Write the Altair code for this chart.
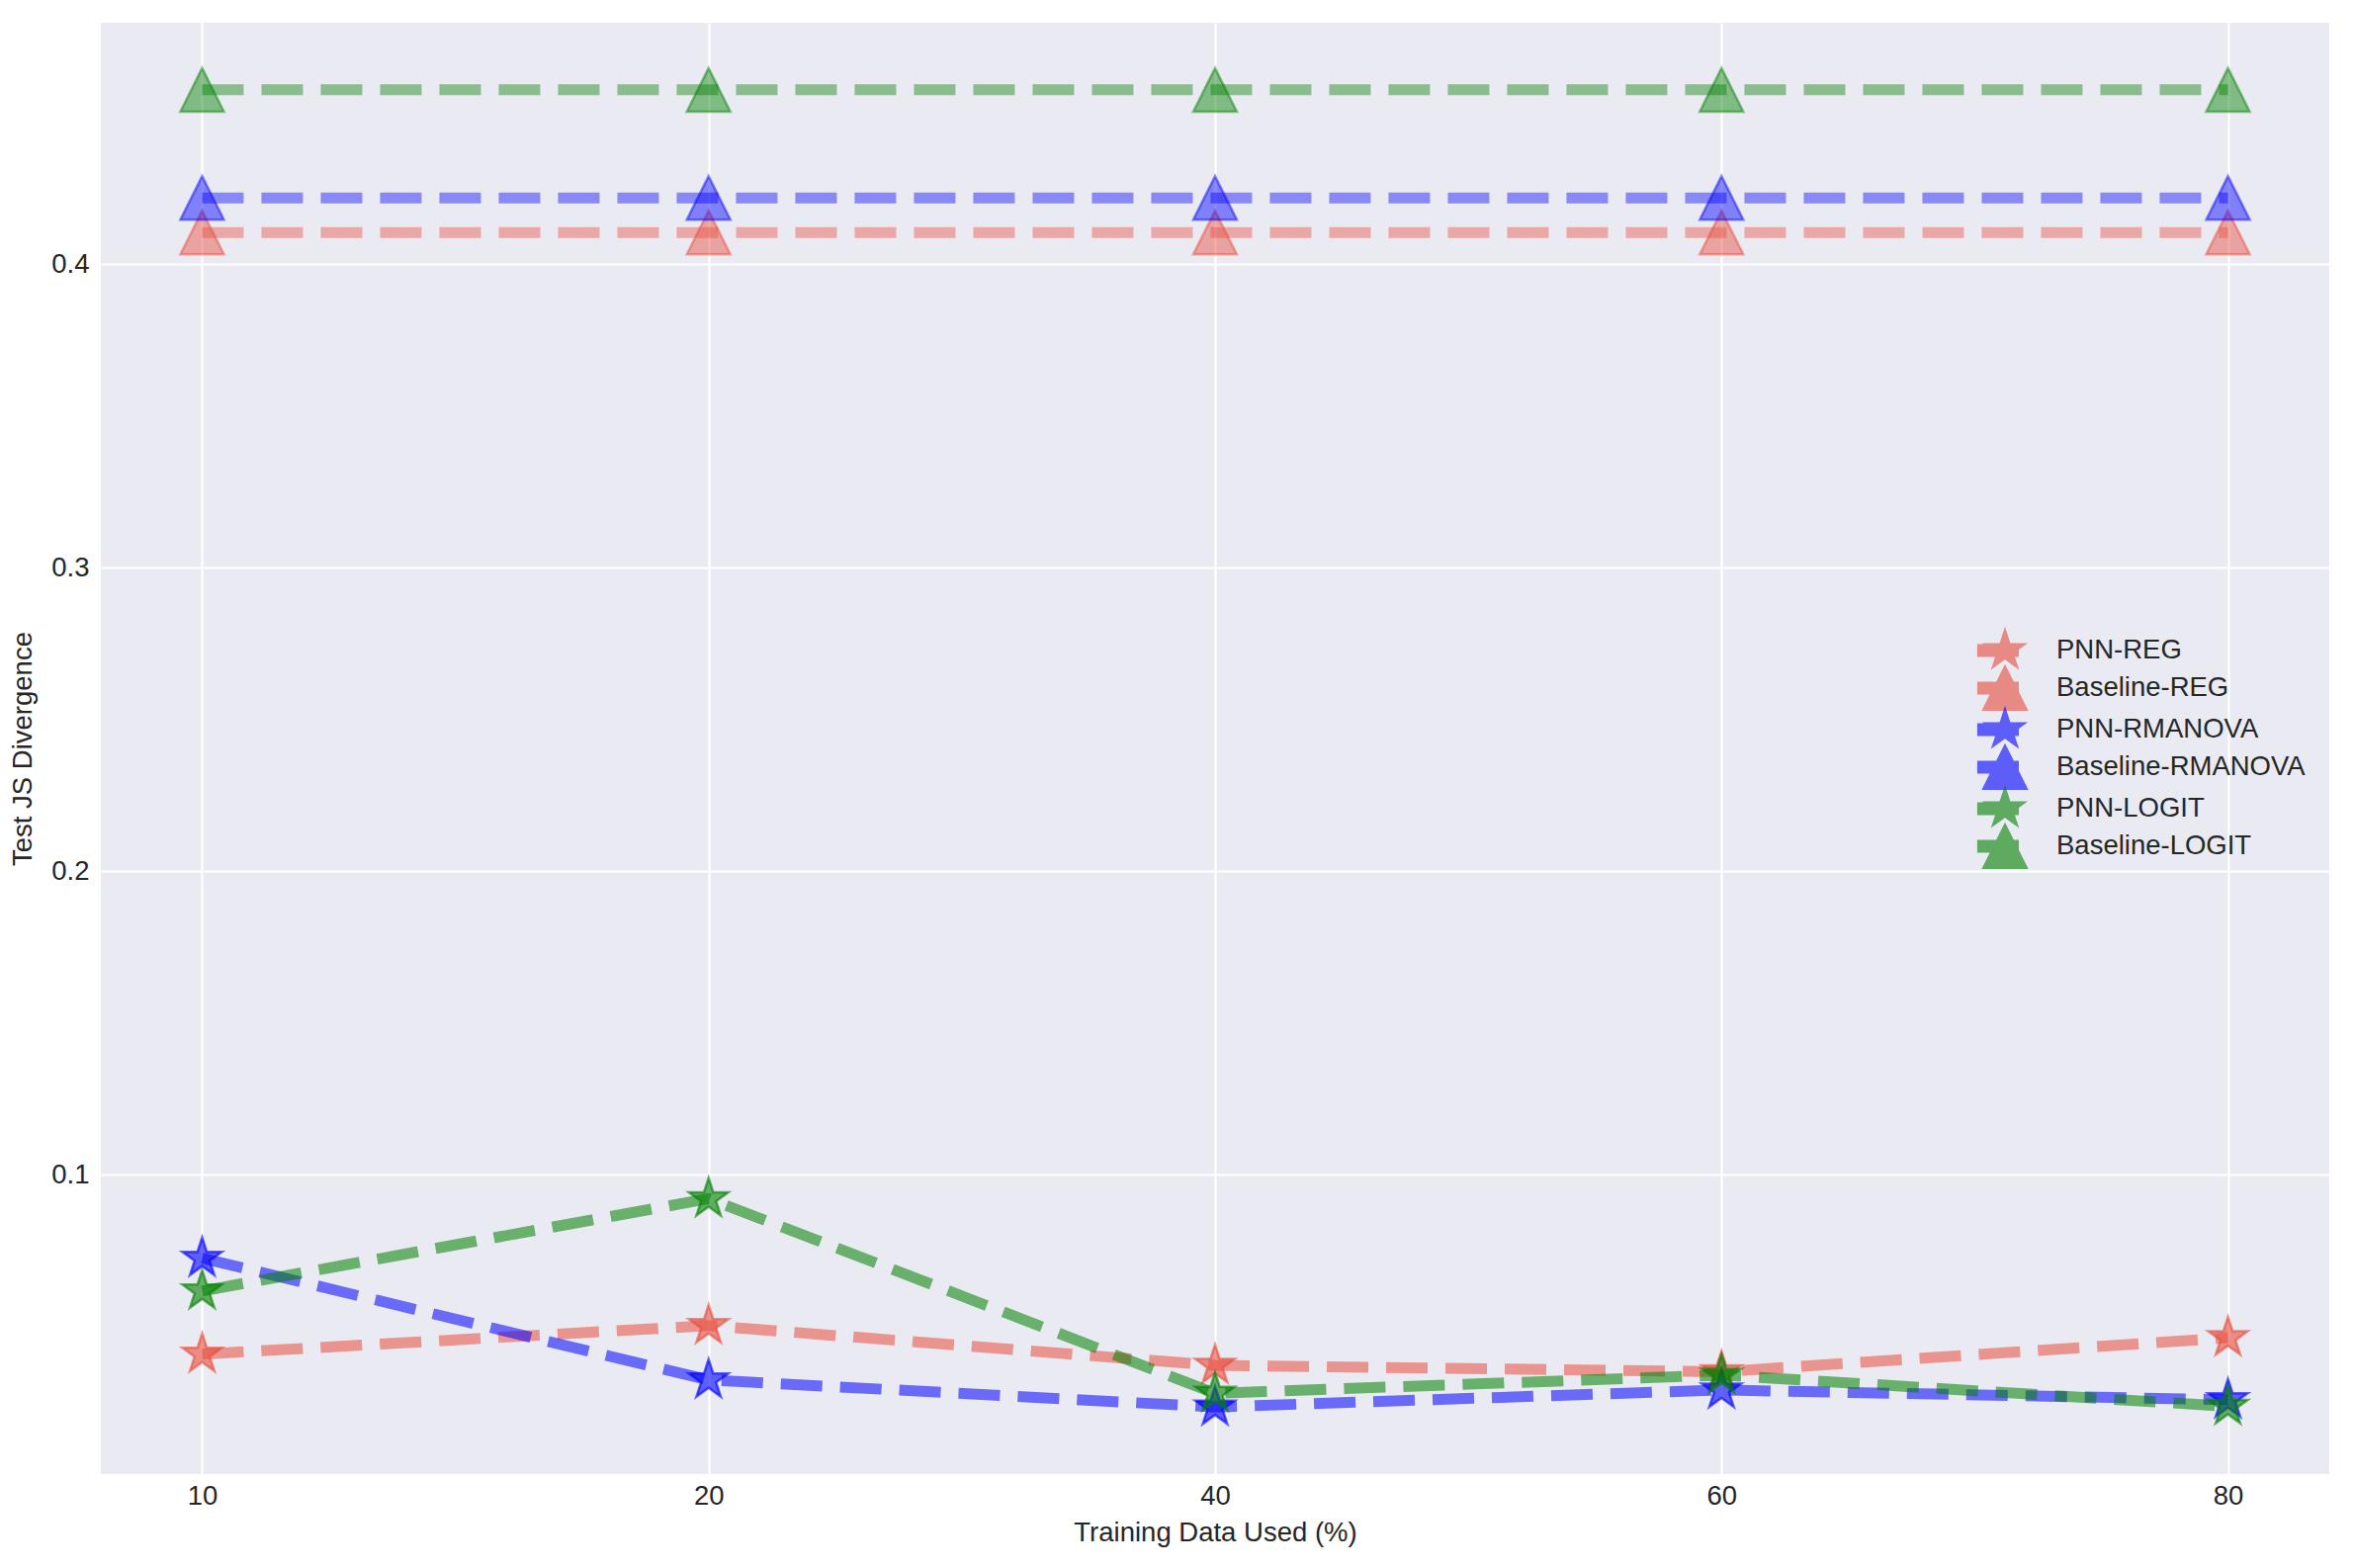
import math
import altair as alt
import pandas as pd

# ---- data ----
pct = ["10", "20", "40", "60", "80"]
series_names = ["PNN-REG", "Baseline-REG", "PNN-RMANOVA", "Baseline-RMANOVA", "PNN-LOGIT", "Baseline-LOGIT"]
pnn_reg = [0.0410, 0.0504, 0.0373, 0.0352, 0.0464]
base_reg = [0.4104, 0.4104, 0.4104, 0.4104, 0.4104]
pnn_rmanova = [0.0726, 0.0325, 0.0236, 0.0292, 0.0260]
base_rmanova = [0.4218, 0.4218, 0.4218, 0.4218, 0.4218]
pnn_logit = [0.0618, 0.0922, 0.0281, 0.0341, 0.0238]
base_logit = [0.4574, 0.4574, 0.4574, 0.4574, 0.4574]
y_ticks = [0.1, 0.2, 0.3, 0.4]

colors = ["#e74c3c", "#e74c3c", "#0000ff", "#0000ff", "#008000", "#008000"]
all_values = [pnn_reg, base_reg, pnn_rmanova, base_rmanova, pnn_logit, base_logit]

rows = []
for name, vals in zip(series_names, all_values):
    for p, v in zip(pct, vals):
        rows.append({"series": name, "pct": p, "value": v})
df = pd.DataFrame(rows)

# ---- marker shapes (unit coordinates) ----
def poly(pts, k=1.0):
    return "M" + "L".join(f"{x * k:.4f},{y * k:.4f}" for x, y in pts) + "Z"

star_pts = []
for i in range(10):
    ang = math.radians(-90 + 36 * i)
    r = 1.0 if i % 2 == 0 else 0.382
    star_pts.append((r * math.cos(ang), r * math.sin(ang)))
tri_pts = [(0, -1.05), (1.05, 1.05), (-1.05, 1.05)]
bar_pts = [(-1.29, -0.26), (0.62, -0.26), (0.62, 0.26), (-1.29, 0.26)]

STAR = poly(star_pts)
TRI = poly(tri_pts)
shapes = [STAR, TRI, STAR, TRI, STAR, TRI]
MSIZE = 1764
legend_shapes = [poly(s) + poly(bar_pts) for s in [star_pts, tri_pts, star_pts, tri_pts, star_pts, tri_pts]]

FONT = "Liberation Sans"
TXT = "#262626"
BG = "#EAEAF2"

x_enc = alt.X(
    "pct:O", sort=pct,
    scale=alt.Scale(type="point", padding=0.2),
    axis=alt.Axis(title="Training Data Used (%)", labelAngle=0, labelPadding=8, titlePadding=10),
)
y_enc = alt.Y(
    "value:Q",
    scale=alt.Scale(domain=[0.0015, 0.4795], nice=False, zero=False),
    axis=alt.Axis(title="Test JS Divergence", values=y_ticks, format=".1f", labelPadding=12, titlePadding=14),
)

base = alt.Chart(df)
layers = []
for i, name in enumerate(series_names):
    is_pnn = name.startswith("PNN")
    line_op = 0.55 if is_pnn else 0.42
    mk_op = 0.6 if is_pnn else 0.45
    sub = base.transform_filter(alt.datum.series == name)
    layers.append(
        sub.mark_line(color=colors[i], strokeWidth=11, strokeDash=[42, 18], opacity=line_op)
        .encode(x=x_enc, y=y_enc)
    )
    layers.append(
        sub.mark_point(shape=shapes[i], size=MSIZE, filled=True, fill=colors[i], stroke=colors[i],
                       fillOpacity=mk_op, strokeOpacity=mk_op, strokeWidth=2.5)
        .encode(x=x_enc, y=y_enc)
    )

leg = alt.Legend(
    orient="none", legendX=1904, legendY=613, title=None,
    symbolSize=MSIZE, symbolStrokeWidth=2, symbolOpacity=0.6,
    labelFont=FONT, labelFontSize=27.5, labelColor=TXT, labelOffset=30, labelLimit=0,
    rowPadding=-10, padding=0, gridAlign="none",
)
legend_layer = (
    base.transform_filter("datum.value < 0")
    .mark_point(filled=True)
    .encode(
        shape=alt.Shape("series:N", scale=alt.Scale(domain=series_names, range=legend_shapes), legend=leg),
        color=alt.Color("series:N", scale=alt.Scale(domain=series_names, range=colors), legend=leg),
        stroke=alt.Stroke("series:N", scale=alt.Scale(domain=series_names, range=colors), legend=leg),
    )
)
layers.append(legend_layer)

chart = (
    alt.layer(*layers)
    .properties(
        width=2254, height=1468,
        autosize=alt.AutoSizeParams(type="none"),
        padding={"left": 94, "top": 15, "right": 10, "bottom": 80},
        background="white",
        view=alt.ViewBackground(fill=BG, strokeWidth=0),
    )
    .configure_view(fill=BG, strokeWidth=0)
    .configure_axis(
        grid=True, gridColor="white", gridWidth=2.2, domain=False, ticks=False,
        labelFont=FONT, labelFontSize=27.5, labelColor=TXT,
        titleFont=FONT, titleFontSize=27.5, titleFontWeight="normal", titleColor=TXT,
    )
)

chart.save("out.html", embed_options={"renderer": "svg", "actions": False})
